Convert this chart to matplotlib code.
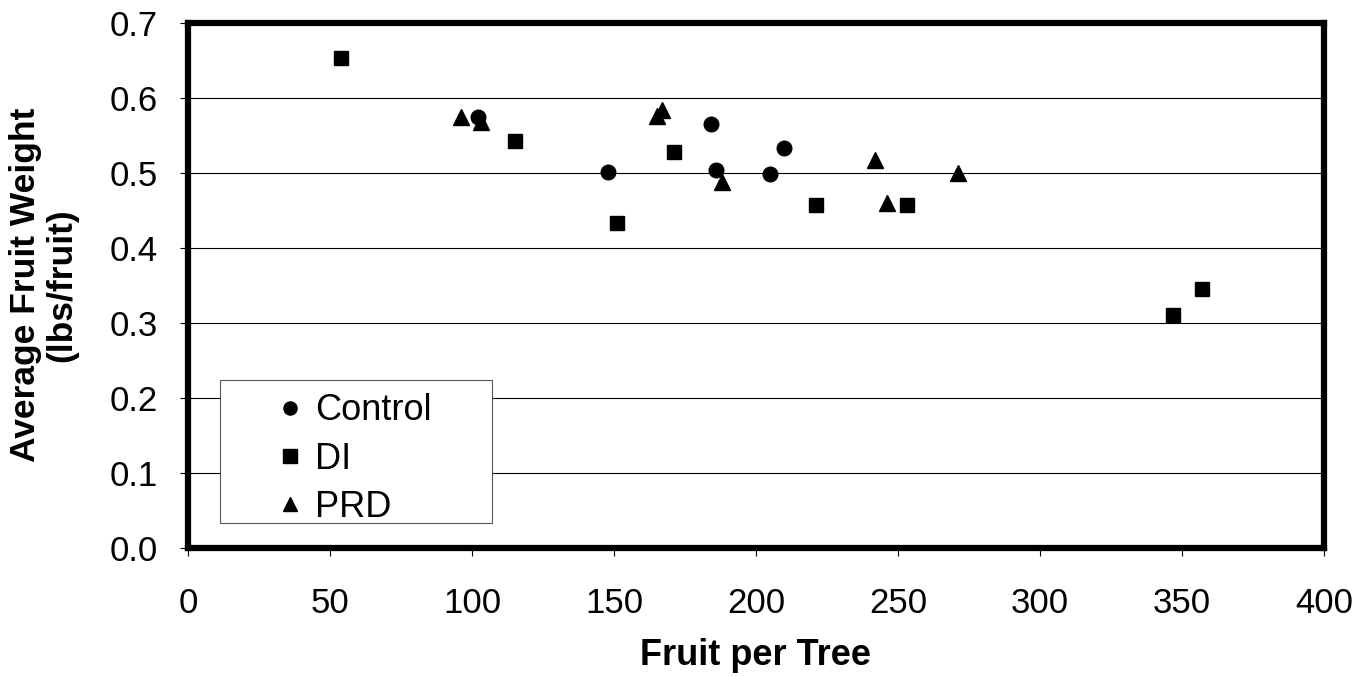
import matplotlib.pyplot as plt
from matplotlib.patches import Rectangle

plt.rcParams['font.family'] = ['Liberation Sans', 'DejaVu Sans']
plt.rcParams['font.size'] = 25

# values
control_x = [102, 148, 184, 186, 205, 210]
control_y = [0.575, 0.501, 0.565, 0.504, 0.499, 0.533]
di_x = [54, 115, 151, 171, 221, 253, 347, 357]
di_y = [0.654, 0.543, 0.434, 0.528, 0.458, 0.458, 0.311, 0.346]
prd_x = [96, 103, 165, 167, 188, 242, 246, 271]
prd_y = [0.575, 0.568, 0.576, 0.584, 0.488, 0.517, 0.460, 0.500]

x_ticks = [0, 50, 100, 150, 200, 250, 300, 350, 400]
y_ticks = [0.0, 0.1, 0.2, 0.3, 0.4, 0.5, 0.6, 0.7]

fig = plt.figure(figsize=(13.7, 6.77), dpi=100)
ax = fig.add_axes([188 / 1370, 1 - 548 / 677, 1136 / 1370, 525 / 677])

ax.plot(control_x, control_y, ls='none', marker='o', color='black',
        ms=10.5, label='Control', zorder=3)
ax.plot(di_x, di_y, ls='none', marker='s', color='black',
        ms=10.5, label='DI', zorder=3)
ax.plot(prd_x, prd_y, ls='none', marker='^', color='black',
        ms=11, label='PRD', zorder=3)

ax.set_xlim(0, 400)
ax.set_ylim(0, 0.7)
ax.set_xticks(x_ticks)
ax.set_yticks(y_ticks)
ax.set_yticklabels([f"{v:.1f}" for v in y_ticks])

ax.set_axisbelow(True)
ax.yaxis.grid(True, color='black', lw=0.8)

for s in ax.spines.values():
    s.set_linewidth(4.5)
    s.set_color('black')

ax.tick_params(axis='both', direction='out', length=6, width=0.8)
ax.tick_params(axis='y', pad=16)
ax.tick_params(axis='x', pad=22)

# axis titles placed in figure pixels to match the reference
fig.text(756 / 1370, 1 - 665 / 677, "Fruit per Tree", fontsize=26,
         fontweight='bold', ha='center', va='baseline')
fig.text(26 / 1370, 1 - 285 / 677, "Average Fruit Weight",
         fontsize=25.5, fontweight='bold', ha='center', va='center',
         rotation=90)
fig.text(62 / 1370, 1 - 285 / 677, "(lbs/fruit)",
         fontsize=25.5, fontweight='bold', ha='center', va='center',
         rotation=90)

# legend box (white, thin grey border) with the entries on top
box = Rectangle((0.0282, 0.0476), 0.2394, 0.2724, transform=ax.transAxes,
                facecolor='white', edgecolor='#555555', lw=0.8, zorder=4)
ax.add_patch(box)
leg = ax.legend(loc='upper left', bbox_to_anchor=(0.0739, 0.2945),
                frameon=False, borderaxespad=0, borderpad=0, fontsize=26,
                handlelength=1, handletextpad=0.2, labelspacing=0.37,
                markerscale=0.9)
leg.set_zorder(5)

fig.savefig("out.png", dpi=100)
